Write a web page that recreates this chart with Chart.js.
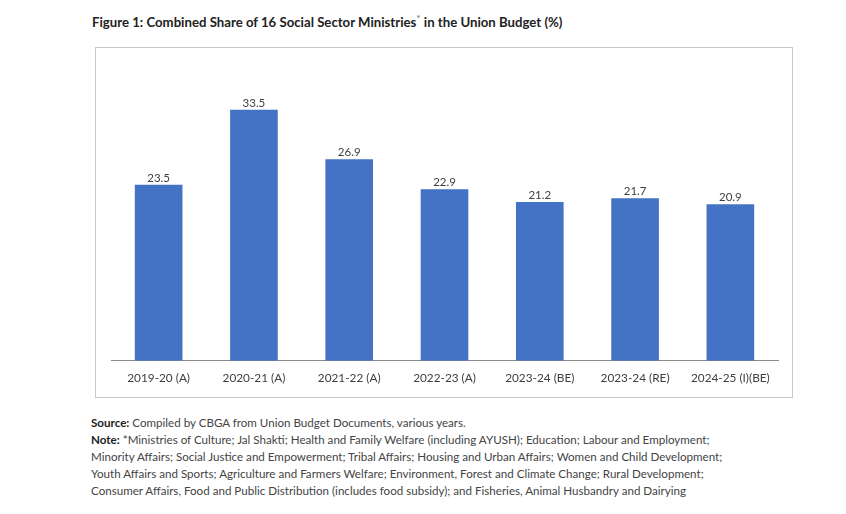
<!DOCTYPE html>
<html>
<head>
<meta charset="utf-8">
<script src="https://cdn.jsdelivr.net/npm/chart.js@4"></script>
<style>
  body { margin: 0; background: #fff; font-family: Lato, sans-serif; }
  #title { position: absolute; left: 92px; top: 12px; font-size: 13.2px; font-weight: bold; color: #222; }
  #title sup { font-weight: normal; font-size: 10px; color: #666; }
  #box { position: absolute; left: 95px; top: 47px; width: 696px; height: 349px; border: 1px solid #c8c8c8; }
  #notes { position: absolute; left: 91px; top: 414px; font-size: 11.6px; line-height: 17px; color: #444; }
  #notes b { color: #222; }
</style>
</head>
<body>
<div id="title">Figure 1: Combined Share of 16 Social Sector Ministries<sup>*</sup> in the Union Budget (%)</div>
<div id="box"><canvas id="myChart" width="696" height="349"></canvas></div>
<div id="notes">
  <div><b>Source:</b> Compiled by CBGA from Union Budget Documents, various years.</div>
  <div><b>Note:</b> *Ministries of Culture; Jal Shakti; Health and Family Welfare (including AYUSH); Education; Labour and Employment;</div>
  <div>Minority Affairs; Social Justice and Empowerment; Tribal Affairs; Housing and Urban Affairs; Women and Child Development;</div>
  <div>Youth Affairs and Sports; Agriculture and Farmers Welfare; Environment, Forest and Climate Change; Rural Development;</div>
  <div>Consumer Affairs, Food and Public Distribution (includes food subsidy); and Fisheries, Animal Husbandry and Dairying</div>
</div>
<script>
var years = ["2019-20 (A)", "2020-21 (A)", "2021-22 (A)", "2022-23 (A)", "2023-24 (BE)", "2023-24 (RE)", "2024-25 (I)(BE)"];
var share = [23.5, 33.5, 26.9, 22.9, 21.2, 21.7, 20.9];

// draw the value above each bar
const barLabels = {
  id: "barLabels",
  afterDatasetsDraw(chart) {
    const ctx = chart.ctx;
    const meta = chart.getDatasetMeta(0);
    ctx.save();
    ctx.font = "11.5px Lato";
    ctx.fillStyle = "#404040";
    ctx.textAlign = "center";
    ctx.textBaseline = "bottom";
    meta.data.forEach((bar, i) => {
      ctx.fillText(share[i].toFixed(1), bar.x, bar.y - 1);
    });
    ctx.restore();
  }
};

const myChart = new Chart("myChart", {
  type: "bar",
  data: {
    labels: years,
    datasets: [{
      data: share,
      backgroundColor: "#4472C4",
      barPercentage: 0.5,
      categoryPercentage: 1.0
    }]
  },
  options: {
    responsive: false,
    animation: false,
    layout: { padding: { left: 15, right: 14, top: 13, bottom: 2 } },
    plugins: { legend: { display: false }, tooltip: { enabled: false } },
    scales: {
      x: {
        grid: { display: false, drawTicks: false },
        border: { color: "#8c8c8c", width: 1 },
        ticks: { padding: 10, color: "#404040", font: { family: "Lato", size: 11.8 } }
      },
      y: { display: false, min: 0, max: 40 }
    }
  },
  plugins: [barLabels]
});
</script>
</body>
</html>
